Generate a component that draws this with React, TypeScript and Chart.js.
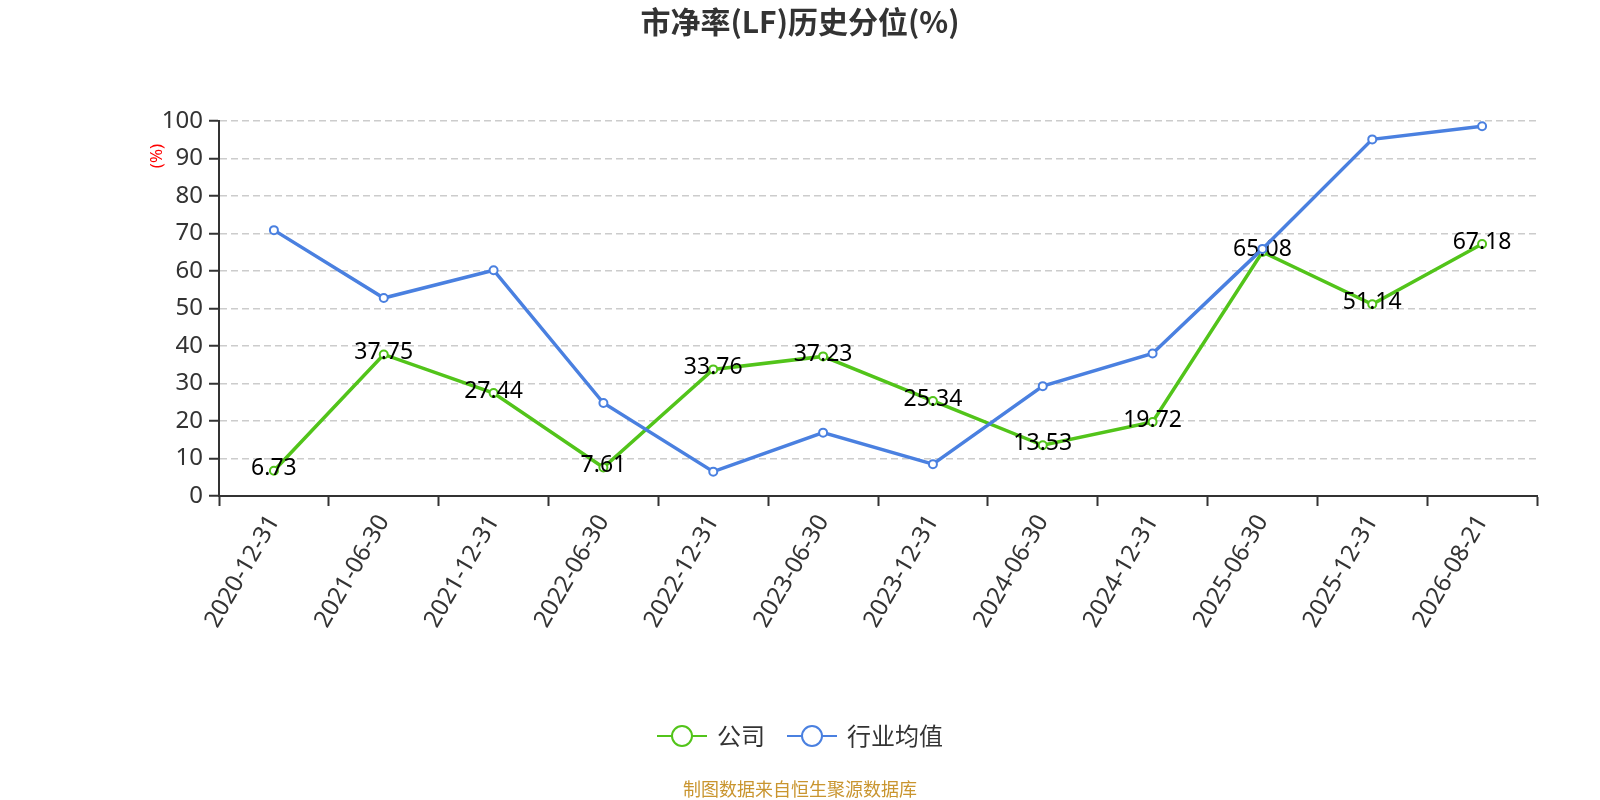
import React, { useEffect, useRef } from "react";
import { Chart, registerables } from "chart.js";

Chart.register(...registerables);

const categories = [
  "2020-12-31",
  "2021-06-30",
  "2021-12-31",
  "2022-06-30",
  "2022-12-31",
  "2023-06-30",
  "2023-12-31",
  "2024-06-30",
  "2024-12-31",
  "2025-06-30",
  "2025-12-31",
  "2026-08-21",
];
const companyValues = [6.73, 37.75, 27.44, 7.61, 33.76, 37.23, 25.34, 13.53, 19.72, 65.08, 51.14, 67.18];
const industryValues = [70.9, 52.8, 60.2, 24.8, 6.5, 16.9, 8.5, 29.3, 38.0, 65.9, 95.1, 98.6];
const seriesNames = ["公司", "行业均值"];
const seriesColors = ["#52c41a", "#4a80e0"];

const titleText = "市净率(LF)历史分位(%)";
const unitText = "(%)";
const footerText = "制图数据来自恒生聚源数据库";
const FONT = '"Noto Sans", "Noto Sans CJK SC", sans-serif';
const CJK = '"Noto Sans CJK SC", "Noto Sans", sans-serif';

const overlay = {
  id: "overlay",
  afterDatasetDraw(chart: any, args: any) {
    if (args.index !== 0) return;
    const ctx = chart.ctx;
    ctx.save();
    ctx.font = `23px ${FONT}`;
    ctx.fillStyle = "#000";
    ctx.textAlign = "center";
    ctx.textBaseline = "middle";
    args.meta.data.forEach((pt: any, i: number) => {
      ctx.fillText(companyValues[i].toFixed(2), pt.x, pt.y - 2);
    });
    ctx.restore();
  },
  afterDraw(chart: any) {
    const ctx = chart.ctx;
    const cx = chart.width / 2;
    ctx.save();

    // title
    ctx.font = `bold 30px ${CJK}`;
    ctx.fillStyle = "#333";
    ctx.textAlign = "center";
    ctx.textBaseline = "middle";
    ctx.fillText(titleText, cx, 22);

    // unit on y axis
    ctx.save();
    ctx.translate(157, 156);
    ctx.rotate(-Math.PI / 2);
    ctx.font = `17px ${FONT}`;
    ctx.fillStyle = "#ff0000";
    ctx.fillText(unitText, 0, 0);
    ctx.restore();

    // legend
    ctx.font = `24px ${CJK}`;
    const ly = 736;
    const widths = seriesNames.map((n) => ctx.measureText(n).width);
    const total = widths.reduce((a, w) => a + 60 + w, 0) + 22 * (seriesNames.length - 1);
    let x = cx - total / 2;
    seriesNames.forEach((name, i) => {
      const c = seriesColors[i];
      ctx.strokeStyle = c;
      ctx.lineWidth = 2;
      ctx.beginPath();
      ctx.moveTo(x, ly);
      ctx.lineTo(x + 50, ly);
      ctx.stroke();
      ctx.beginPath();
      ctx.arc(x + 25, ly, 10, 0, Math.PI * 2);
      ctx.fillStyle = "#fff";
      ctx.fill();
      ctx.stroke();
      ctx.fillStyle = "#333";
      ctx.textAlign = "left";
      ctx.fillText(name, x + 60, ly);
      x += 60 + widths[i] + 22;
    });

    // footer
    ctx.font = `18px ${CJK}`;
    ctx.fillStyle = "#c9952f";
    ctx.textAlign = "center";
    ctx.fillText(footerText, cx, 789);
    ctx.restore();
  },
};

const App: React.FC = () => {
  const chartRef = useRef<HTMLCanvasElement | null>(null);

  useEffect(() => {
    if (!chartRef.current) return;
    const ctx = chartRef.current.getContext("2d");
    if (!ctx) return;

    const chart = new Chart(ctx, {
      type: "line",
      data: {
        labels: categories,
        datasets: [
          {
            label: seriesNames[0],
            data: companyValues,
            borderColor: seriesColors[0],
            backgroundColor: "#fff",
            borderWidth: 3.5,
            pointRadius: 4,
            pointBorderWidth: 2,
            pointBackgroundColor: "#fff",
            pointBorderColor: seriesColors[0],
            tension: 0,
            order: 1,
          },
          {
            label: seriesNames[1],
            data: industryValues,
            borderColor: seriesColors[1],
            backgroundColor: "#fff",
            borderWidth: 3.5,
            pointRadius: 4,
            pointBorderWidth: 2,
            pointBackgroundColor: "#fff",
            pointBorderColor: seriesColors[1],
            tension: 0,
            order: 0,
          },
        ],
      },
      options: {
        responsive: false,
        animation: false,
        layout: { padding: { top: 121, right: 63, bottom: 124, left: 0 } },
        plugins: {
          legend: { display: false },
          tooltip: { enabled: false },
          title: { display: false },
        },
        scales: {
          x: {
            offset: true,
            grid: {
              offset: true,
              drawOnChartArea: false,
              drawTicks: true,
              tickLength: 10,
              tickColor: "#333",
              tickWidth: 2,
            },
            border: { display: true, color: "#333", width: 2 },
            ticks: {
              autoSkip: false,
              minRotation: 60,
              maxRotation: 60,
              padding: 4,
              color: "#333",
              font: { size: 24, family: FONT },
            },
            afterFit: (scale: any) => {
              scale.height = 180;
            },
          },
          y: {
            min: 0,
            max: 100,
            grid: {
              color: "#cccccc",
              lineWidth: 1.5,
              tickLength: 10,
              tickColor: "#333",
              tickWidth: 2,
              tickBorderDash: [],
            },
            border: { display: true, color: "#333", width: 2, dash: [7, 4] },
            ticks: {
              stepSize: 10,
              padding: 6,
              color: "#333",
              font: { size: 24, family: FONT },
            },
            afterFit: (scale: any) => {
              scale.width = 219;
            },
          },
        },
      },
      plugins: [overlay],
    });

    return () => {
      chart.destroy();
    };
  }, []);

  return (
    <div style={{ position: "absolute", left: 0, top: 0, width: 1600, height: 800, background: "#fff" }}>
      <canvas ref={chartRef} width={1600} height={800} style={{ display: "block" }}></canvas>
    </div>
  );
};

export default App;
